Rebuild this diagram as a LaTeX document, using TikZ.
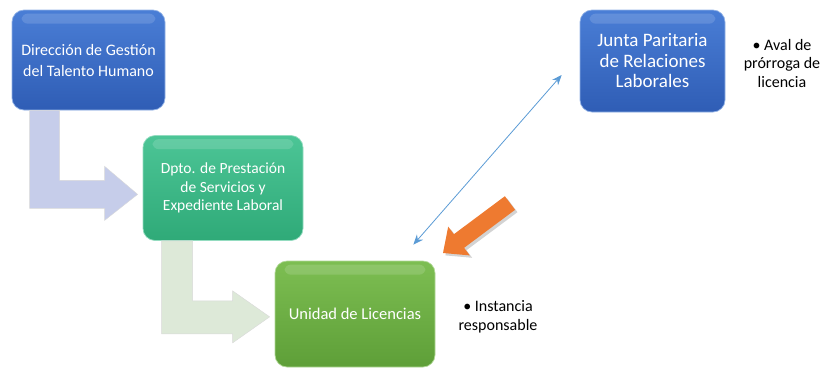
\documentclass[tikz,border=0pt]{standalone}
\usepackage{fontspec}
\setmainfont{Carlito}
\usetikzlibrary{arrows.meta, calc, positioning, shadows}
\definecolor{darkblue}{HTML}{2F5DB5}
\definecolor{lightblue}{HTML}{4A7ED6}
\definecolor{darkteal}{HTML}{2FAA78}
\definecolor{lightteal}{HTML}{4CC596}
\definecolor{darkgreen}{HTML}{5E9F38}
\definecolor{lightgreen}{HTML}{7DBE52}
\definecolor{linkblue}{HTML}{5B9BD5}
\definecolor{accentorange}{HTML}{EE7A30}
\definecolor{bentblue}{HTML}{C6CDEA}
\definecolor{bentgreen}{HTML}{DDE9D8}

\tikzset{
  unitbox/.style n args={2}{rounded corners=12pt, text=white, align=center,
    draw=#2!60!white, line width=0.7pt, top color=#2, bottom color=#1,
    inner sep=0pt},
  bentarrow/.style={fill=#1, draw=white!85!black, line width=0.4pt},
  notetext/.style={align=center, font=\fontsize{16}{18.5}\selectfont}
}

\begin{document}
\begin{tikzpicture}[x=1pt, y=-1pt, >=Stealth]
  \useasboundingbox (0,0) rectangle (823,368);

  % Boxes
  \node[unitbox={darkblue}{lightblue}, minimum width=153pt, minimum height=100pt,
        font=\fontsize{16}{21}\selectfont] (b1) at (88.5,60)
        {Dirección de Gestión\\del Talento Humano};
  \node[unitbox={darkteal}{lightteal}, minimum width=160pt, minimum height=105pt,
        font=\fontsize{15.5}{18.5}\selectfont] (b2) at (223,188)
        {Dpto. de Prestación\\de Servicios y\\Expediente Laboral};
  \node[unitbox={darkgreen}{lightgreen}, minimum width=160pt, minimum height=106pt,
        font=\fontsize{16.5}{20}\selectfont] (b3) at (355,314)
        {Unidad de Licencias};
  \node[unitbox={darkblue}{lightblue}, minimum width=145pt, minimum height=102pt,
        font=\fontsize{19}{20.5}\selectfont] (b4) at (652.5,61)
        {Junta Paritaria\\de Relaciones\\Laborales};

  % Gloss
  \foreach \b in {b1,b2,b3,b4} {
    \fill[white, opacity=0.14, rounded corners=6pt]
      ($(\b.north west)+(10,4)$) rectangle ($(\b.north east)+(-10,14)$);
  }

  % Bent arrows
  \begin{scope}[shift={(b1.south west)}]
    \fill[bentarrow=bentblue] (18,0) -- (48,0) -- (48,70) -- (93,70) -- (93,56)
      -- (126,84) -- (93,110) -- (93,98) -- (18,98) -- cycle;
  \end{scope}
  \begin{scope}[shift={(b2.south west)}]
    \fill[bentarrow=bentgreen] (19,0) -- (50,0) -- (50,60) -- (90,60) -- (90,50)
      -- (127,76) -- (90,102) -- (90,93) -- (19,93) -- cycle;
  \end{scope}

  % Link between units
  \coordinate (jA) at ($(b3.north east)+(-22,-16)$);
  \coordinate (jB) at ($(b4.west)+(-18,14)$);
  \draw[{Stealth[length=10pt,width=8pt]}-{Stealth[length=10pt,width=8pt]},
        linkblue, line width=0.8pt] (jA) -- (jB);

  % Pointer
  \fill[accentorange, drop shadow={opacity=0.35}] (515.1,209.8) -- (504.9,196.2)
    -- (453.9,234.2) -- (448.2,226.6) -- (443,253) -- (469.8,255.4)
    -- (464.1,247.8) -- cycle;

  % Notes
  \node[notetext] (n4) at (782,63) {\textbullet\ Aval de\\prórroga de\\licencia};
  \node[notetext] (n3) at (498,317) {\textbullet\ Instancia\\responsable};
\end{tikzpicture}
\end{document}
